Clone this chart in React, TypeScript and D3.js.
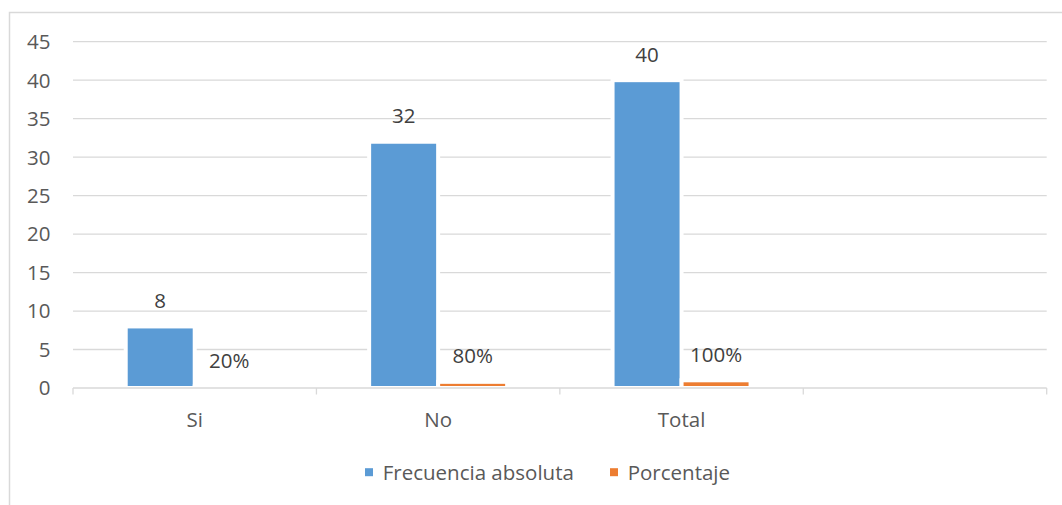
import React from "react";
import * as d3 from "d3";

// Categories on the x axis (the last slot is an empty category)
const categories = ["Si", "No", "Total", ""];
const seriesNames = ["Frecuencia absoluta", "Porcentaje"];
// Absolute frequency per category
const frecuencia = [8, 32, 40, null];
// Percentage per category (as a fraction of the total)
const porcentaje = [0.2, 0.8, 1.0, null];
const porcentajeLabels = ["20%", "80%", "100%", ""];
const yTicks = [0, 5, 10, 15, 20, 25, 30, 35, 40, 45];

const colors = ["#5B9BD5", "#ED7D31"];
const W = 1062;
const H = 505;
const FONT = "'Open Sans', 'Noto Sans', sans-serif";
const FS = 20.5;

export default function App() {
  const left = 73;
  const right = 1046.7;
  const top = 41.7;
  const bottom = 388;

  const x0 = d3.scaleBand<string>().domain(categories).range([left, right]).padding(0);
  const x1 = d3
    .scaleBand<string>()
    .domain(seriesNames)
    .range([0, x0.bandwidth()])
    .paddingInner(0)
    .paddingOuter(0.764);
  const y = d3.scaleLinear().domain([0, 45]).range([bottom, top]);

  const values = [frecuencia, porcentaje];
  const labels = [frecuencia.map((v) => (v == null ? "" : String(v))), porcentajeLabels];

  const catBoundaries = categories.map((c) => x0(c) as number).concat([right]);

  return (
    <svg
      width={W}
      height={H}
      style={{ position: "absolute", left: 0, top: 0, background: "#fff" }}
      fontFamily={FONT}
    >
      {/* chart area border */}
      <rect x={9.5} y={12.5} width={W + 20} height={H + 20} fill="#fff" stroke="#d9d9d9" strokeWidth={1.5} />

      {/* horizontal gridlines */}
      {yTicks
        .filter((t) => t !== 0)
        .map((t) => (
          <line key={t} x1={left} x2={right} y1={y(t)} y2={y(t)} stroke="#d9d9d9" strokeWidth={1.3} />
        ))}

      {/* y tick labels */}
      {yTicks.map((t) => (
        <text
          key={t}
          x={50.5}
          y={y(t)}
          dy="0.36em"
          textAnchor="end"
          fontSize={FS}
          fill="#595959"
        >
          {t}
        </text>
      ))}

      {/* bars */}
      {categories.map((c, ci) =>
        seriesNames.map((s, si) => {
          const v = values[si][ci];
          if (v == null) return null;
          const bx = (x0(c) as number) + (x1(s) as number);
          const bw = x1.bandwidth();
          return (
            <rect
              key={c + s}
              x={bx}
              y={y(v)}
              width={bw}
              height={bottom - y(v)}
              fill={colors[si]}
              stroke="#fff"
              strokeWidth={4}
            />
          );
        })
      )}

      {/* x axis line and category ticks */}
      <line x1={left} x2={right} y1={bottom} y2={bottom} stroke="#d9d9d9" strokeWidth={1.3} />
      {catBoundaries.map((bx, i) => (
        <line key={i} x1={bx} x2={bx} y1={bottom} y2={bottom + 6.5} stroke="#d9d9d9" strokeWidth={1.3} />
      ))}

      {/* data labels */}
      {categories.map((c, ci) =>
        seriesNames.map((s, si) => {
          const v = values[si][ci];
          if (v == null) return null;
          const cx = (x0(c) as number) + (x1(s) as number) + x1.bandwidth() / 2;
          return (
            <text
              key={"l" + c + s}
              x={cx}
              y={y(v) - 18.5}
              textAnchor="middle"
              fontSize={FS}
              fill="#404040"
            >
              {labels[si][ci]}
            </text>
          );
        })
      )}

      {/* category labels */}
      {categories.map((c) => (
        <text
          key={"c" + c}
          x={(x0(c) as number) + x0.bandwidth() / 2}
          y={426.5}
          textAnchor="middle"
          fontSize={FS}
          fill="#595959"
        >
          {c}
        </text>
      ))}

      {/* legend */}
      {seriesNames.map((s, i) => {
        const lx = [365, 610][i];
        return (
          <g key={"lg" + s}>
            <rect x={lx} y={468.2} width={8} height={8} fill={colors[i]} />
            <text x={lx + 17.7} y={479.5} fontSize={FS} fill="#595959">
              {s}
            </text>
          </g>
        );
      })}
    </svg>
  );
}
